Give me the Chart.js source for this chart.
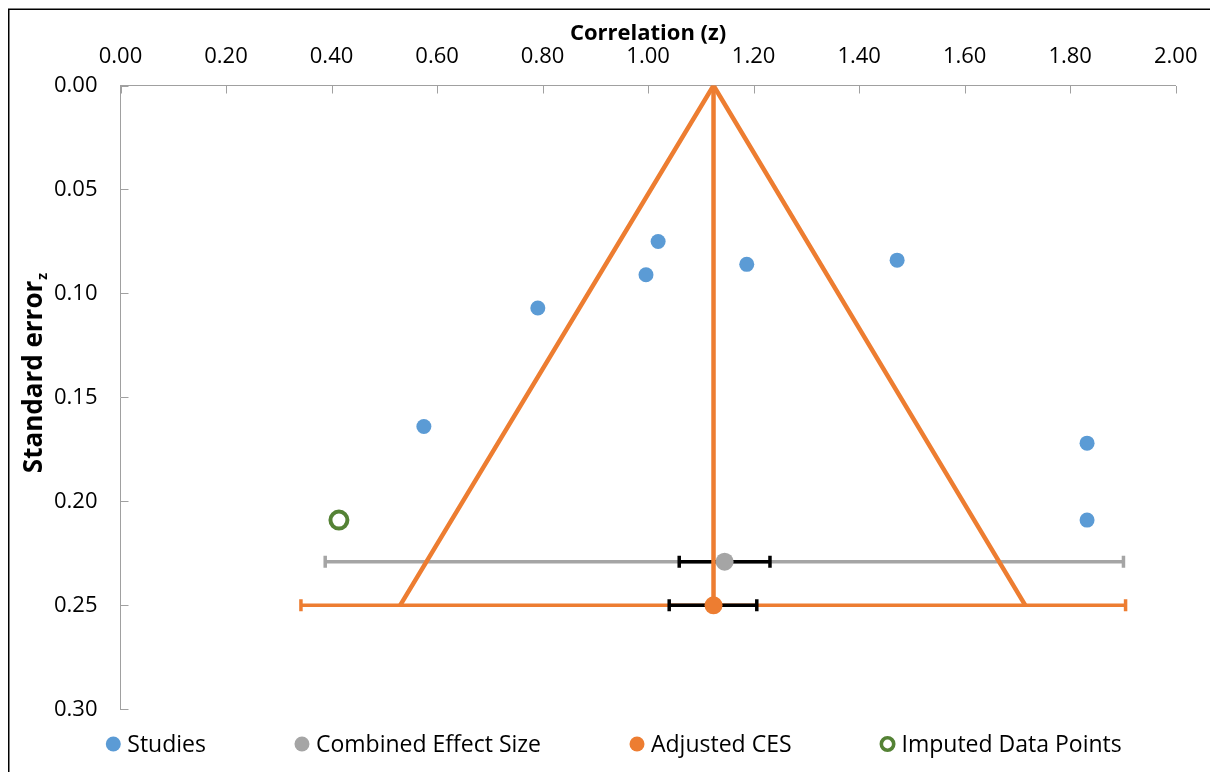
<!DOCTYPE html>
<html>
<head>
<meta charset="utf-8">
<script src="https://cdn.jsdelivr.net/npm/chart.js@4.4.1/dist/chart.umd.min.js"></script>
<style>
  html, body { margin: 0; padding: 0; background: #fff; }
  canvas { display: block; }
</style>
</head>
<body>
<canvas id="funnel" width="1210" height="772"></canvas>
<script>
// valeurs (z = corrélation, se = erreur standard)
const studyZ  = [0.575, 0.791, 0.996, 1.019, 1.187, 1.472, 1.832, 1.832];
const studySE = [0.164, 0.107, 0.091, 0.075, 0.086, 0.084, 0.172, 0.209];

const imputedZ  = [0.414];
const imputedSE = [0.209];

const cesZ  = [1.145];
const cesSE = [0.229];
const cesCI = [1.059, 1.231];   // barre noire
const cesPI = [0.388, 1.901];   // barre grise

const adjZ  = [1.124];
const adjSE = [0.25];
const adjCI = [1.040, 1.206];   // barre noire
const adjPI = [0.342, 1.905];   // barre orange

const funnelZ  = [0.530, 1.124, 1.715];
const funnelSE = [0.25, 0, 0.25];

const legendNames = ['Studies', 'Combined Effect Size', 'Adjusted CES', 'Imputed Data Points'];

const BLUE = '#5B9BD5', GREY = '#A5A5A5', ORANGE = '#ED7D31', GREEN = '#548235';
const FONT = '"Open Sans", "Noto Sans", sans-serif';

function pts(xs, ys) {
    return xs.map((x, i) => ({ x: x, y: ys[i] }));
}
// barre horizontale avec deux bouts (pointStyle line tourné à 90°)
function bar(range, se, color, width, order) {
    return {
        data: pts(range, [se[0], se[0]]),
        showLine: true,
        borderColor: color,
        borderWidth: width,
        pointStyle: 'line',
        rotation: 90,
        pointRadius: 6,
        pointBorderColor: color,
        pointBorderWidth: width,
        borderCapStyle: 'butt',
        order: order
    };
}

const datasets = [
    { label: legendNames[0], legend: true, data: pts(studyZ, studySE),
      backgroundColor: BLUE, borderColor: BLUE, pointRadius: 7.5, pointBorderWidth: 0, order: 0 },
    { label: legendNames[1], legend: true, data: pts(cesZ, cesSE),
      backgroundColor: GREY, borderColor: GREY, pointRadius: 9, pointBorderWidth: 0, order: 1 },
    { label: legendNames[2], legend: true, data: pts(adjZ, adjSE),
      backgroundColor: ORANGE, borderColor: ORANGE, pointRadius: 9, pointBorderWidth: 0, order: 2 },
    { label: legendNames[3], legend: true, data: pts(imputedZ, imputedSE),
      backgroundColor: '#fff', borderColor: GREEN, pointRadius: 8.5, pointBorderWidth: 4, order: 3 },

    // entonnoir + ligne verticale
    { data: pts(funnelZ, funnelSE), showLine: true, borderColor: ORANGE, borderWidth: 4.5,
      pointRadius: 0, borderJoinStyle: 'miter', order: 10 },
    { data: pts([adjZ[0], adjZ[0]], [0, adjSE[0]]), showLine: true, borderColor: ORANGE, borderWidth: 4.5,
      pointRadius: 0, order: 10 },

    bar(cesCI, cesSE, '#000', 3.5, 11),
    bar(adjCI, adjSE, '#000', 3.5, 11),
    bar(cesPI, cesSE, GREY, 3.5, 12),
    bar(adjPI, adjSE, ORANGE, 3.5, 12)
];

const decor = {
    id: 'decor',
    beforeDatasetsDraw(chart) {
        const ctx = chart.ctx, a = chart.chartArea;
        const xs = chart.scales.x, ys = chart.scales.y;
        ctx.save();
        ctx.strokeStyle = '#A0A0A0';
        ctx.lineWidth = 1;
        ctx.beginPath();
        xs.ticks.forEach(t => {
            const px = Math.round(xs.getPixelForValue(t.value)) + 0.5;
            ctx.moveTo(px, Math.round(a.top)); ctx.lineTo(px, Math.round(a.top) + 7.5);
        });
        ys.ticks.forEach(t => {
            const py = Math.round(ys.getPixelForValue(t.value)) + 0.5;
            ctx.moveTo(Math.round(a.left), py); ctx.lineTo(Math.round(a.left) + 7.5, py);
        });
        ctx.stroke();
        ctx.restore();
    },
    afterDraw(chart) {
        const ctx = chart.ctx, a = chart.chartArea;
        ctx.save();
        // cadre
        ctx.strokeStyle = '#000';
        ctx.lineWidth = 1.5;
        ctx.beginPath();
        ctx.moveTo(8.75, chart.height); ctx.lineTo(8.75, 9.25); ctx.lineTo(chart.width, 9.25);
        ctx.stroke();

        // titre axe x
        ctx.fillStyle = '#000';
        ctx.font = 'bold 22px ' + FONT;
        ctx.textAlign = 'center';
        ctx.textBaseline = 'alphabetic';
        ctx.fillText('Correlation (z)', (a.left + a.right) / 2, 40);

        // titre axe y avec indice z
        ctx.save();
        ctx.translate(42, 373);
        ctx.rotate(-Math.PI / 2);
        ctx.font = 'bold 26px ' + FONT;
        const w1 = ctx.measureText('Standard error').width;
        ctx.font = 'bold 14px ' + FONT;
        const w2 = ctx.measureText('z').width;
        const x0 = -(w1 + w2 + 1) / 2;
        ctx.textAlign = 'left';
        ctx.font = 'bold 26px ' + FONT;
        ctx.fillText('Standard error', x0, 0);
        ctx.font = 'bold 14px ' + FONT;
        ctx.fillText('z', x0 + w1 + 1, 5);
        ctx.restore();

        // légende
        ctx.font = '23px ' + FONT;
        ctx.textBaseline = 'middle';
        ctx.textAlign = 'left';
        let x = 113.3;
        const y = 744;
        chart.data.datasets.filter(d => d.legend).forEach(d => {
            ctx.beginPath();
            if (d.pointBorderWidth > 0) {
                ctx.arc(x, y, 6.2, 0, Math.PI * 2);
                ctx.fillStyle = '#fff';
                ctx.fill();
                ctx.lineWidth = 3.6;
                ctx.strokeStyle = d.borderColor;
                ctx.stroke();
            } else {
                ctx.arc(x, y, 7.5, 0, Math.PI * 2);
                ctx.fillStyle = d.backgroundColor;
                ctx.fill();
            }
            ctx.fillStyle = '#000';
            const tx = x + 14;
            ctx.fillText(d.label, tx, y + 1);
            x = tx + ctx.measureText(d.label).width + 96;
        });
        ctx.restore();
    }
};

new Chart(document.getElementById('funnel'), {
    type: 'scatter',
    data: { datasets: datasets },
    options: {
        responsive: false,
        animation: false,
        devicePixelRatio: 1,
        layout: { padding: { left: 0, top: 0, right: 34.3, bottom: 62.7 } },
        plugins: { legend: { display: false }, tooltip: { enabled: false } },
        scales: {
            x: {
                type: 'linear', position: 'top', min: 0, max: 2,
                ticks: { stepSize: 0.2, padding: 16, color: '#000', font: { family: FONT, size: 22 },
                         callback: v => v.toFixed(2) },
                grid: { display: false, drawTicks: false },
                border: { color: '#A0A0A0', width: 1 },
                afterFit: s => { s.height = 85.5; s.paddingLeft = 0; s.paddingRight = 0; }
            },
            y: {
                type: 'linear', reverse: true, min: 0, max: 0.3,
                ticks: { stepSize: 0.05, padding: 23, color: '#000', font: { family: FONT, size: 22 },
                         callback: v => v.toFixed(2) },
                grid: { display: false, drawTicks: false },
                border: { color: '#A0A0A0', width: 1 },
                afterFit: s => { s.width = 120.5; s.paddingTop = 0; s.paddingBottom = 0; }
            }
        }
    },
    plugins: [decor]
});
</script>
</body>
</html>
